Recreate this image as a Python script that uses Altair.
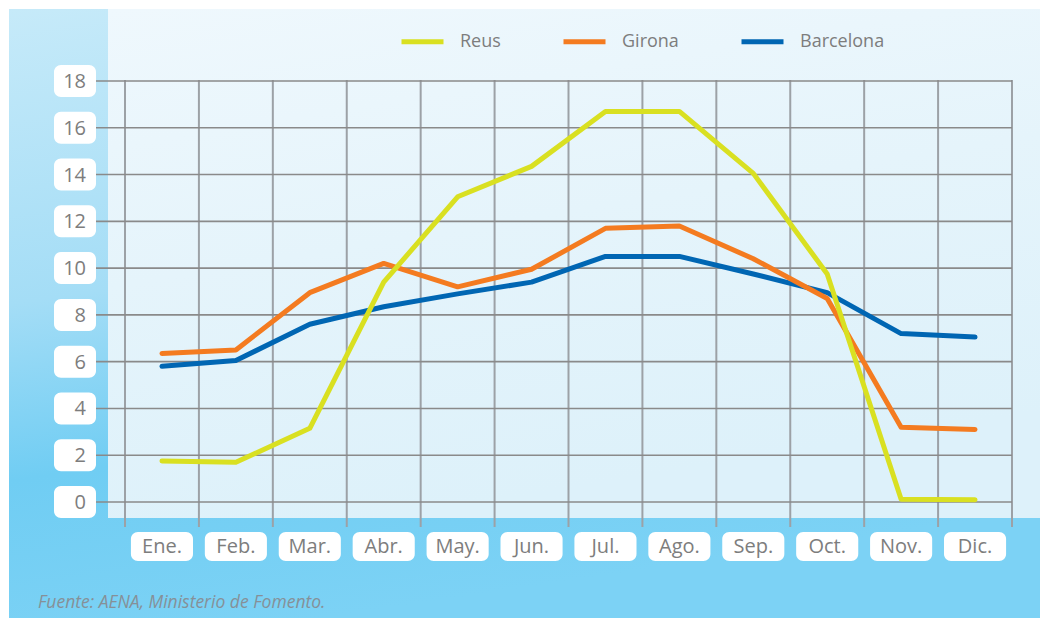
import altair as alt
import pandas as pd

# ---- data -------------------------------------------------------------
months = ["Ene.", "Feb.", "Mar.", "Abr.", "May.", "Jun.",
          "Jul.", "Ago.", "Sep.", "Oct.", "Nov.", "Dic."]
series = ["Reus", "Girona", "Barcelona"]
colors = ["#d9e021", "#f47b20", "#0066b3"]
reus = [1.75, 1.7, 3.15, 9.4, 13.05, 14.35, 16.7, 16.7, 14.05, 9.75, 0.12, 0.1]
girona = [6.35, 6.5, 8.95, 10.2, 9.2, 9.95, 11.7, 11.8, 10.4, 8.7, 3.2, 3.1]
barcelona = [5.8, 6.05, 7.6, 8.35, 8.9, 9.4, 10.5, 10.5, 9.75, 8.95, 7.2, 7.05]
yticks = [0, 2, 4, 6, 8, 10, 12, 14, 16, 18]
source = "Fuente: AENA, Ministerio de Fomento."

values = {"Reus": reus, "Girona": girona, "Barcelona": barcelona}
rows = []
for s in series:
    for m, v in zip(months, values[s]):
        rows.append({"series": s, "month": m, "value": v})
df = pd.DataFrame(rows)
month_df = pd.DataFrame({"month": months})
tick_df = pd.DataFrame({"v": yticks})
one = pd.DataFrame({"a": [0]})
src_df = pd.DataFrame({"t": [source]})

# ---- styling ----------------------------------------------------------
W, H = 887, 421
FONT = "Open Sans"
LABEL = "#7d7d7d"

xs = alt.Scale(type="band", domain=months, paddingInner=0, paddingOuter=0)
ys = alt.Scale(domain=[0, 18], nice=False, zero=True)

panel = alt.Chart(one).mark_rect(
    fill=alt.LinearGradient(
        gradient="linear",
        stops=[alt.GradientStop(color="#c6eaf9", offset=0),
               alt.GradientStop(color="#a4ddf6", offset=0.45),
               alt.GradientStop(color="#70cdf3", offset=0.72),
               alt.GradientStop(color="#7cd2f5", offset=1)],
        x1=0, y1=0, x2=0.25, y2=1),
    strokeWidth=0,
).encode(x=alt.value(-116), x2=alt.value(920), y=alt.value(-72), y2=alt.value(545))

inner = alt.Chart(one).mark_rect(
    fill=alt.LinearGradient(
        gradient="linear",
        stops=[alt.GradientStop(color="#eff8fd", offset=0),
               alt.GradientStop(color="#e5f4fb", offset=0.5),
               alt.GradientStop(color="#ddf1fa", offset=1)],
        x1=0, y1=0, x2=0.3, y2=1),
    strokeWidth=0,
).encode(x=alt.value(-17), x2=alt.value(920), y=alt.value(-72), y2=alt.value(437))

vgrid = alt.Chart(month_df).mark_rule(color="#9ca1a6", strokeWidth=2).encode(
    x=alt.X("month:N", scale=xs, bandPosition=0, axis=None),
    y=alt.value(-1), y2=alt.value(446),
)
vgrid_end = alt.Chart(one).mark_rule(color="#9ca1a6", strokeWidth=2).encode(
    x=alt.value(W), y=alt.value(-1), y2=alt.value(446),
)

hgrid = alt.Chart(tick_df).mark_rule(color="#8a8a8a", strokeWidth=1.6).encode(
    y=alt.Y("v:Q", scale=ys, axis=None),
    x=alt.value(-29), x2=alt.value(W),
)

ybox = alt.Chart(tick_df).mark_rect(
    color="white", cornerRadius=7, yOffset=-16, y2Offset=16
).encode(
    y=alt.Y("v:Q", scale=ys, axis=None), y2="v:Q",
    x=alt.value(-71), x2=alt.value(-29),
)
ytext = alt.Chart(tick_df).mark_text(
    align="right", baseline="middle", font=FONT, fontSize=20, color=LABEL, dy=1
).encode(
    y=alt.Y("v:Q", scale=ys, axis=None), text="v:Q", x=alt.value(-39),
)

xbox = alt.Chart(month_df).mark_bar(
    color="white", cornerRadius=7, width=alt.RelativeBandSize(0.84)
).encode(
    x=alt.X("month:N", scale=xs, axis=None),
    y=alt.value(451), y2=alt.value(480),
)
xtext = alt.Chart(month_df).mark_text(
    align="center", baseline="middle", font=FONT, fontSize=20, color=LABEL
).encode(
    x=alt.X("month:N", scale=xs, bandPosition=0.5, axis=None),
    y=alt.value(466), text="month:N",
)

footer = alt.Chart(src_df).mark_text(
    align="left", baseline="middle", font=FONT, fontStyle="italic",
    fontSize=17.5, color="#869098"
).encode(text="t:N", x=alt.value(-87), y=alt.value(522))

color = alt.Color(
    "series:N",
    scale=alt.Scale(domain=series, range=colors),
    legend=alt.Legend(
        orient="none", legendX=274, legendY=-63, direction="horizontal",
        title=None, symbolType="stroke", symbolSize=1764, symbolStrokeWidth=5,
        labelFont=FONT, labelFontSize=18, labelColor=LABEL, labelOffset=14,
        columnPadding=52, padding=0,
    ),
)


def line(name):
    return alt.Chart(df).transform_filter(
        alt.datum.series == name
    ).mark_line(strokeWidth=5, strokeCap="round", strokeJoin="round").encode(
        x=alt.X("month:N", scale=xs, bandPosition=0.5, axis=None, sort=months),
        y=alt.Y("value:Q", scale=ys, axis=None),
        color=color,
    )


chart = alt.layer(
    panel, inner, vgrid, vgrid_end, hgrid, ybox, ytext, xbox, xtext, footer,
    line("Barcelona"), line("Girona"), line("Reus"),
).properties(
    width=W, height=H,
    autosize=alt.AutoSizeParams(type="none"),
    padding={"left": 117, "top": 73, "right": 28, "bottom": 116},
    background="white",
).configure_view(strokeWidth=0)

chart.save("out.html", embed_options={"renderer": "svg", "actions": False})
